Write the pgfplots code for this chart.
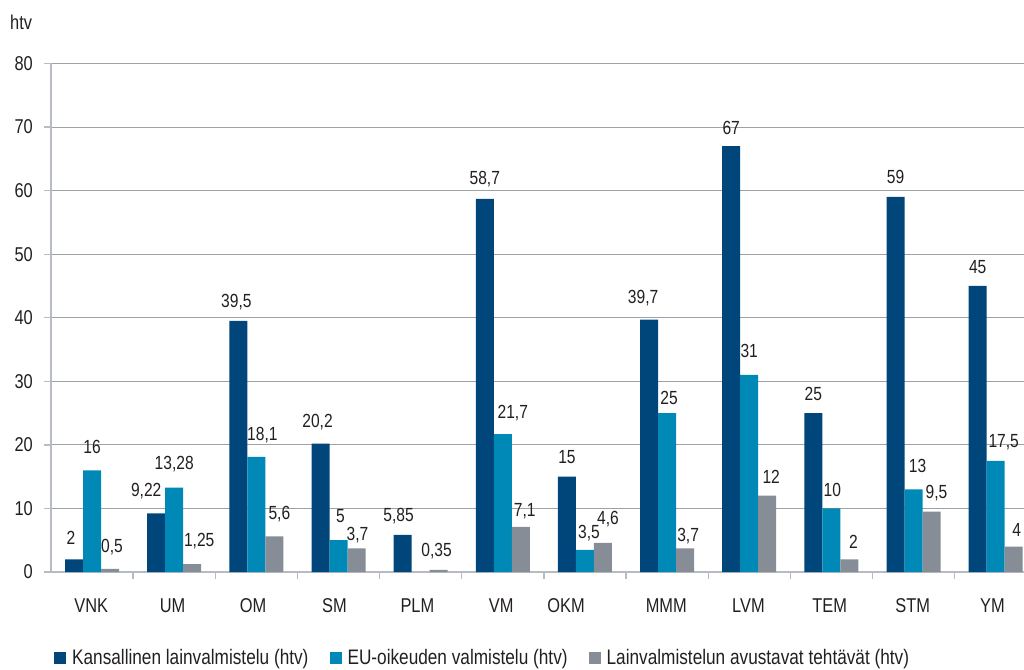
\documentclass[border=0pt]{standalone}
\usepackage{fontspec}
\setmainfont{Liberation Sans}[FakeStretch=0.82]
\usepackage{pgfplots}
\usepackage{pgfplotstable}
\pgfplotsset{compat=1.18}

\definecolor{kans}{HTML}{00467A}
\definecolor{euo}{HTML}{0089B6}
\definecolor{avus}{HTML}{868D96}
\definecolor{gridc}{HTML}{9CA2A9}
\definecolor{axisc}{HTML}{B7BCC2}
\definecolor{txt}{HTML}{231F20}

% x = ministry index, y = htv, dx/dy = label offset (pt), lab = printed value
\pgfplotstableread{
x y dx dy lab
0 2 -3 22 2
1 9.22 -10 24 9,22
2 39.5 -2 20 39,5
3 20.2 -3 23 20,2
4 5.85 -4 20 5,85
5 58.7 0 21 58,7
6 15 0 20 15
7 39.7 -6 23 39,7
8 67 0 19 67
9 25 0 20 25
10 59 0 20 59
11 45 0 19 45
}\kansallinen

\pgfplotstableread{
x y dx dy lab
0 16 0 24 16
1 13.28 0 25 13,28
2 18.1 6 23 18,1
3 5 2 25 5
5 21.7 10 23 21,7
6 3.5 4 18 3,5
7 25 2 16 25
8 31 0 24 31
9 10 1 19 10
10 13 4 24 13
11 17.5 8 20 17,5
}\euoikeus

\pgfplotstableread{
x y dx dy lab
0 0.5 2 23 0,5
1 1.25 7 25 1,25
2 5.6 5 24 5,6
3 3.7 1 15 3,7
4 0.35 -2 20 0,35
5 7.1 4 17 7,1
6 4.6 5 25 4,6
7 3.7 3 14 3,7
8 12 4 19 12
9 2 4 18 2
10 9.5 5 20 9,5
11 4 3 17 4
}\avustavat

\begin{document}
\begin{tikzpicture}
\begin{axis}[
    name=ax,
    scale only axis,
    width=973pt, height=508.5pt,
    xmin=-0.5, xmax=11.345,
    ymin=0, ymax=80,
    ytick={0,10,...,80},
    xtick={0.5,1.5,...,10.5},
    xticklabels={},
    extra x ticks={-0.01,0.98,1.96,2.95,3.96,4.98,5.77,6.99,7.99,8.98,9.99,10.96},
    extra x tick labels={VNK,UM,OM,SM,PLM,VM,OKM,MMM,LVM,TEM,STM,YM},
    extra x tick style={major tick length=0pt},
    axis x line*=bottom,
    axis y line*=left,
    axis line style={axisc, line width=1.4pt},
    tick align=outside,
    major tick length=7pt,
    tick style={axisc, line width=1.3pt},
    ymajorgrids,
    grid style={gridc, line width=1.1pt},
    /pgf/number format/assume math mode=true,
    tick label style={text=txt, font=\fontsize{20}{24}\selectfont, inner sep=0pt},
    yticklabel style={anchor=east, xshift=-11pt},
    xticklabel style={anchor=base, yshift=-40pt},
    ybar=0pt,
    bar width=18pt,
    nodes near coords,
    point meta=explicit symbolic,
    visualization depends on={\thisrow{dx}\as\dx},
    visualization depends on={\thisrow{dy}\as\dy},
    nodes near coords style={anchor=base, inner sep=0pt, text=txt,
        font=\fontsize{19}{22}\selectfont,
        xshift=\dx pt, yshift={(\dy-7)*1pt}},
    legend columns=-1,
    legend style={at={(axis description cs:0.003,-0.169)}, anchor=west,
        draw=none, fill=none, inner sep=0pt,
        font=\fontsize{21}{24}\selectfont, text=txt,
        nodes={inner sep=0pt},
        /tikz/every odd column/.append style={column sep=6pt},
        /tikz/every even column/.append style={column sep=21pt}},
    legend image code/.code={\fill[#1] (0pt,-6pt) rectangle (12pt,6pt);},
]
\addplot[fill=kans, draw=none] table[x=x, y=y, meta=lab] {\kansallinen};
\addlegendentry{Kansallinen lainvalmistelu (htv)}
\addplot[fill=euo, draw=none] table[x=x, y=y, meta=lab] {\euoikeus};
\addlegendentry{EU-oikeuden valmistelu (htv)}
\addplot[fill=avus, draw=none] table[x=x, y=y, meta=lab] {\avustavat};
\addlegendentry{Lainvalmistelun avustavat tehtävät (htv)}
\end{axis}
\node[anchor=base west, inner sep=0pt, text=txt, font=\fontsize{20}{24}\selectfont]
    at ([xshift=-41pt, yshift=33.5pt]ax.north west) {htv};
\pgfresetboundingbox
\path[use as bounding box] ([xshift=-51pt, yshift=-97pt]ax.south west) rectangle ++(1024pt,669pt);
\end{tikzpicture}
\end{document}
